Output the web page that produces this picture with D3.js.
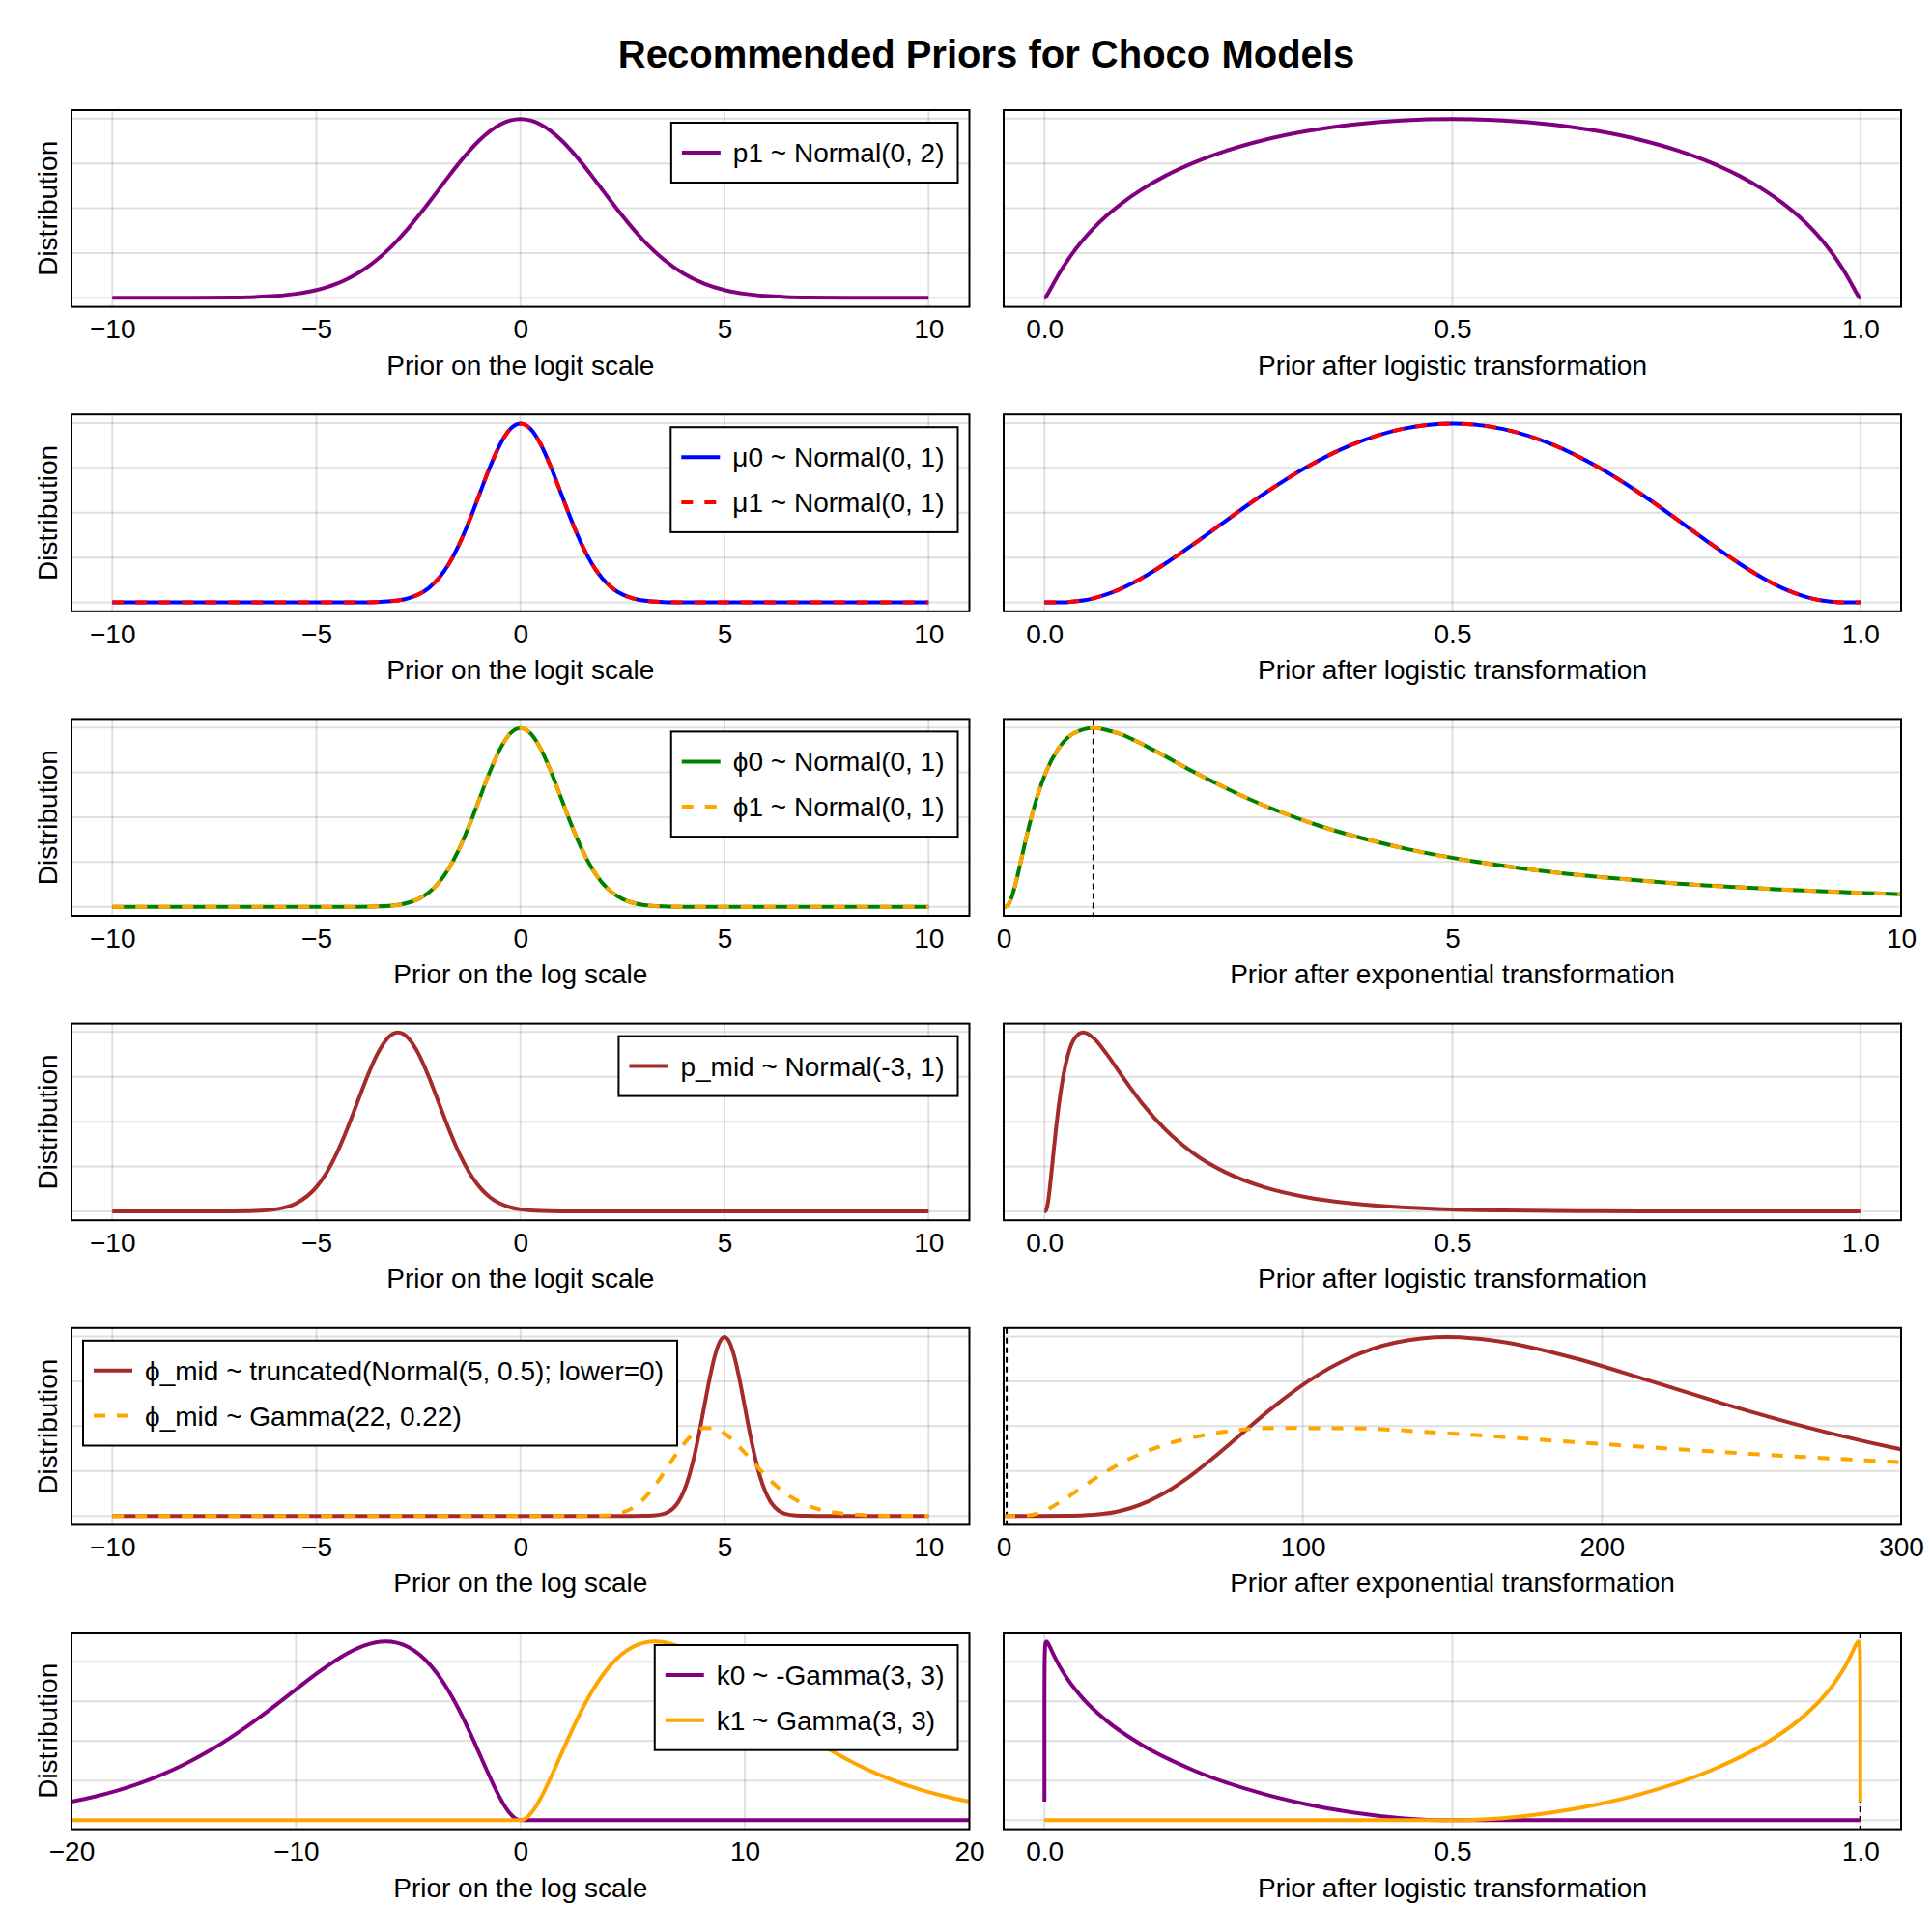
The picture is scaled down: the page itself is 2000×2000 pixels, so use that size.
<!DOCTYPE html>
<html><head><meta charset="utf-8">
<script src="https://cdn.jsdelivr.net/npm/d3@7"></script>
<style>
body{margin:0;background:#fff}
svg text{font-family:"Liberation Sans",Arial,Helvetica,sans-serif}
</style>
</head><body>
<svg id="chart" width="2000" height="2000"></svg>
<script>
// ---------------- DATA ----------------
const chartTitle = "Recommended Priors for Choco Models";

// logit-scale grid (rows 1, 2, 4) and the same points after the logistic transformation
const logitGrid = [-10, -9, -8, -7, -6.5, -6, -5.5, -5, -4.75, -4.5, -4.25, -4, -3.75, -3.5, -3.25, -3, -2.75, -2.5, -2.25, -2, -1.75, -1.5, -1.25, -1, -0.75, -0.5, -0.25, 0, 0.25, 0.5, 0.75, 1, 1.25, 1.5, 1.75, 2, 2.25, 2.5, 2.75, 3, 3.5, 4, 4.5, 5, 5.5, 6, 6.5, 7, 8, 9, 10];
const logisticGrid = [0.0000454, 0.0001234, 0.0003354, 0.000911, 0.001501, 0.002473, 0.004070, 0.006693, 0.008577, 0.010987, 0.014064, 0.017986, 0.022977, 0.029312, 0.037327, 0.047426, 0.060087, 0.075858, 0.095349, 0.119203, 0.148047, 0.182426, 0.222700, 0.268941, 0.320821, 0.377541, 0.437823, 0.5, 0.562177, 0.622459, 0.679179, 0.731059, 0.777300, 0.817574, 0.851953, 0.880797, 0.904651, 0.924142, 0.939913, 0.952574, 0.970688, 0.982014, 0.989013, 0.993307, 0.995930, 0.997527, 0.998499, 0.999089, 0.999665, 0.999877, 0.999955];

// row 1: p1 ~ Normal(0, 2)
const p1Density = [0.0000007, 0.000008, 0.000067, 0.000436, 0.001015, 0.00222, 0.00455, 0.00876, 0.01189, 0.01587, 0.02086, 0.02700, 0.03440, 0.04314, 0.05327, 0.06476, 0.07751, 0.09132, 0.10594, 0.12098, 0.13603, 0.15057, 0.16408, 0.17603, 0.18593, 0.19333, 0.19792, 0.19947, 0.19792, 0.19333, 0.18593, 0.17603, 0.16408, 0.15057, 0.13603, 0.12098, 0.10594, 0.09132, 0.07751, 0.06476, 0.04314, 0.02700, 0.01587, 0.00876, 0.00455, 0.00222, 0.001015, 0.000436, 0.000067, 0.000008, 0.0000007];

// row 2: mu0 / mu1 ~ Normal(0, 1)
const mu0Density = [0, 0, 0, 0, 0, 0, 0.0000001, 0.0000015, 0.000005, 0.000016, 0.000048, 0.000134, 0.000353, 0.000873, 0.002029, 0.004432, 0.00909, 0.01753, 0.03174, 0.05399, 0.08628, 0.12952, 0.18265, 0.24197, 0.30114, 0.35207, 0.38667, 0.39894, 0.38667, 0.35207, 0.30114, 0.24197, 0.18265, 0.12952, 0.08628, 0.05399, 0.03174, 0.01753, 0.00909, 0.004432, 0.000873, 0.000134, 0.000016, 0.0000015, 0.0000001, 0, 0, 0, 0, 0, 0];
const mu1Density = [0, 0, 0, 0, 0, 0, 0.0000001, 0.0000015, 0.000005, 0.000016, 0.000048, 0.000134, 0.000353, 0.000873, 0.002029, 0.004432, 0.00909, 0.01753, 0.03174, 0.05399, 0.08628, 0.12952, 0.18265, 0.24197, 0.30114, 0.35207, 0.38667, 0.39894, 0.38667, 0.35207, 0.30114, 0.24197, 0.18265, 0.12952, 0.08628, 0.05399, 0.03174, 0.01753, 0.00909, 0.004432, 0.000873, 0.000134, 0.000016, 0.0000015, 0.0000001, 0, 0, 0, 0, 0, 0];

// row 4: p_mid ~ Normal(-3, 1)
const pMidDensity = [0, 0, 0.0000015, 0.000134, 0.000873, 0.004432, 0.01753, 0.05399, 0.08628, 0.12952, 0.18265, 0.24197, 0.30114, 0.35207, 0.38667, 0.39894, 0.38667, 0.35207, 0.30114, 0.24197, 0.18265, 0.12952, 0.08628, 0.05399, 0.03174, 0.01753, 0.00909, 0.004432, 0.002029, 0.000873, 0.000353, 0.000134, 0.000048, 0.000016, 0.000005, 0.0000015, 0.0000001, 0, 0, 0, 0, 0, 0, 0, 0, 0, 0, 0, 0, 0, 0];

// row 3: log-scale grid and the same points after exp
const logGrid = [-10, -8, -6, -5, -4.5, -4, -3.5, -3, -2.75, -2.5, -2.25, -2, -1.75, -1.5, -1.25, -1, -0.75, -0.5, -0.25, 0, 0.25, 0.5, 0.75, 1, 1.25, 1.5, 1.75, 2, 2.25, 2.5, 2.75, 3, 3.5, 4, 4.5, 5, 6, 8, 10];
const expGrid = [0.0000454, 0.000335, 0.00248, 0.00674, 0.0111, 0.0183, 0.0302, 0.0498, 0.0639, 0.0821, 0.1054, 0.1353, 0.1738, 0.2231, 0.2865, 0.3679, 0.4724, 0.6065, 0.7788, 1, 1.2840, 1.6487, 2.1170, 2.7183, 3.4903, 4.4817, 5.7546, 7.3891, 9.4877, 12.1825, 15.6426, 20.0855, 33.1155, 54.5982, 90.0171, 148.4132, 403.4288, 2980.958, 22026.47];
const phi0Density = [0, 0, 0, 0.0000015, 0.000016, 0.000134, 0.000873, 0.004432, 0.00909, 0.01753, 0.03174, 0.05399, 0.08628, 0.12952, 0.18265, 0.24197, 0.30114, 0.35207, 0.38667, 0.39894, 0.38667, 0.35207, 0.30114, 0.24197, 0.18265, 0.12952, 0.08628, 0.05399, 0.03174, 0.01753, 0.00909, 0.004432, 0.000873, 0.000134, 0.000016, 0.0000015, 0, 0, 0];
const phi1Density = [0, 0, 0, 0.0000015, 0.000016, 0.000134, 0.000873, 0.004432, 0.00909, 0.01753, 0.03174, 0.05399, 0.08628, 0.12952, 0.18265, 0.24197, 0.30114, 0.35207, 0.38667, 0.39894, 0.38667, 0.35207, 0.30114, 0.24197, 0.18265, 0.12952, 0.08628, 0.05399, 0.03174, 0.01753, 0.00909, 0.004432, 0.000873, 0.000134, 0.000016, 0.0000015, 0, 0, 0];

// row 5: phi_mid ~ truncated(Normal(5, 0.5); lower=0)
const phiMidNormGrid = [-10, 0, 2, 2.5, 3, 3.25, 3.5, 3.625, 3.75, 3.875, 4, 4.125, 4.25, 4.375, 4.5, 4.625, 4.75, 4.875, 5, 5.125, 5.25, 5.375, 5.5, 5.625, 5.75, 5.875, 6, 6.125, 6.25, 6.375, 6.5, 6.75, 7, 7.5, 8, 10];
const phiMidNormExp = [0.0000454, 1, 7.389, 12.18, 20.09, 25.79, 33.12, 37.52, 42.52, 48.18, 54.60, 61.87, 70.11, 79.44, 90.02, 102.0, 115.58, 130.97, 148.41, 168.17, 190.57, 215.94, 244.69, 277.26, 314.19, 356.0, 403.43, 457.1, 518.0, 586.9, 665.1, 854.1, 1096.6, 1808.0, 2981.0, 22026.5];
const phiMidNormDensity = [0, 0, 0, 0.000003, 0.000268, 0.001745, 0.008864, 0.01818, 0.03506, 0.06348, 0.10798, 0.17256, 0.25903, 0.36530, 0.48394, 0.60227, 0.70413, 0.77333, 0.79788, 0.77333, 0.70413, 0.60227, 0.48394, 0.36530, 0.25903, 0.17256, 0.10798, 0.06348, 0.03506, 0.01818, 0.008864, 0.001745, 0.000268, 0.000003, 0, 0];

// row 5: phi_mid ~ Gamma(22, 0.22)
const phiMidGammaGrid = [-10, 0, 1, 1.5, 2, 2.5, 3, 3.25, 3.5, 3.75, 4, 4.25, 4.5, 4.75, 5, 5.25, 5.5, 5.75, 6, 6.5, 7, 7.5, 8, 9, 10];
const phiMidGammaExp = [0.0000454, 1, 2.718, 4.482, 7.389, 12.18, 20.09, 25.79, 33.12, 42.52, 54.60, 70.11, 90.02, 115.58, 148.41, 190.57, 244.69, 314.19, 403.43, 665.1, 1096.6, 1808.0, 2981.0, 8103.1, 22026.5];
const phiMidGammaDensity = [0, 0, 0, 0.000031, 0.001355, 0.01513, 0.0718, 0.1237, 0.1882, 0.2574, 0.3202, 0.3671, 0.3914, 0.3906, 0.3682, 0.3292, 0.2808, 0.2295, 0.1801, 0.0997, 0.0487, 0.02134, 0.00852, 0.00107, 0.0001];

// row 6: k0 ~ -Gamma(3, 3), k1 ~ Gamma(3, 3)
const kGrid = [-20, -19, -18, -17, -16, -15, -14, -13, -12, -11, -10, -9, -8, -7.5, -7, -6.5, -6, -5.5, -5, -4.5, -4, -3.5, -3, -2.5, -2, -1.5, -1, -0.75, -0.5, -0.25, 0, 0.25, 0.5, 0.75, 1, 1.5, 2, 2.5, 3, 3.5, 4, 4.5, 5, 5.5, 6, 6.5, 7, 7.5, 8, 9, 10, 11, 12, 13, 14, 15, 16, 17, 18, 19, 20];
const kLogistic = [0.000000002, 0.0000000056, 0.000000015, 0.000000041, 0.00000011, 0.00000031, 0.00000083, 0.0000023, 0.0000061, 0.0000167, 0.0000454, 0.0001234, 0.0003354, 0.000553, 0.000911, 0.001501, 0.002473, 0.004070, 0.006693, 0.010987, 0.017986, 0.029312, 0.047426, 0.075858, 0.119203, 0.182426, 0.268941, 0.320821, 0.377541, 0.437823, 0.5, 0.562177, 0.622459, 0.679179, 0.731059, 0.817574, 0.880797, 0.924142, 0.952574, 0.970688, 0.982014, 0.989013, 0.993307, 0.995930, 0.997527, 0.998499, 0.999089, 0.999447, 0.999665, 0.999877, 0.999955, 0.9999833, 0.9999939, 0.9999977, 0.9999992, 0.9999997, 0.99999989, 0.99999996, 0.999999985, 0.9999999944, 0.999999998];
const k0Density = [0.009427, 0.011874, 0.014873, 0.018514, 0.022888, 0.028075, 0.034131, 0.041074, 0.048842, 0.057275, 0.066063, 0.074681, 0.082350, 0.085505, 0.087994, 0.089633, 0.090224, 0.089562, 0.087444, 0.083674, 0.078104, 0.070643, 0.061313, 0.050301, 0.038031, 0.025272, 0.013269, 0.008113, 0.003919, 0.001065, 0, 0, 0, 0, 0, 0, 0, 0, 0, 0, 0, 0, 0, 0, 0, 0, 0, 0, 0, 0, 0, 0, 0, 0, 0, 0, 0, 0, 0, 0, 0];
const k1Density = [0, 0, 0, 0, 0, 0, 0, 0, 0, 0, 0, 0, 0, 0, 0, 0, 0, 0, 0, 0, 0, 0, 0, 0, 0, 0, 0, 0, 0, 0, 0, 0.001065, 0.003919, 0.008113, 0.013269, 0.025272, 0.038031, 0.050301, 0.061313, 0.070643, 0.078104, 0.083674, 0.087444, 0.089562, 0.090224, 0.089633, 0.087994, 0.085505, 0.082350, 0.074681, 0.066063, 0.057275, 0.048842, 0.041074, 0.034131, 0.028075, 0.022888, 0.018514, 0.014873, 0.011874, 0.009427];

// ticks
const logitTicks = [-10, -5, 0, 5, 10];
const logitTickLabels = ["\u221210", "\u22125", "0", "5", "10"];
const probTicks = [0, 0.5, 1];
const probTickLabels = ["0.0", "0.5", "1.0"];
const exp10Ticks = [0, 5, 10];
const exp10TickLabels = ["0", "5", "10"];
const exp300Ticks = [0, 100, 200, 300];
const exp300TickLabels = ["0", "100", "200", "300"];
const kTicks = [-20, -10, 0, 10, 20];
const kTickLabels = ["\u221220", "\u221210", "0", "10", "20"];
const yTicksRow1 = [0, 0.05, 0.1, 0.15, 0.2];
const yTicksRow2 = [0, 0.1, 0.2, 0.3, 0.4];
const yTicksRow5 = [0, 0.2, 0.4, 0.6, 0.8];
const yTicksRow6 = [0, 0.02, 0.04, 0.06, 0.08];

// labels
const xLabelLogit = "Prior on the logit scale";
const xLabelLog = "Prior on the log scale";
const xLabelLogistic = "Prior after logistic transformation";
const xLabelExp = "Prior after exponential transformation";
const yLabel = "Distribution";

// ---------------- CHART ----------------
const FONT = '"Liberation Sans", Arial, Helvetica, sans-serif';
const svg = d3.select('#chart');
const defs = svg.append('defs');
svg.append('rect').attr('width', 2000).attr('height', 2000).attr('fill', '#fff');

svg.append('text').attr('x', 1021).attr('y', 69.5).attr('text-anchor', 'middle')
  .attr('font-size', 40).attr('font-weight', 'bold').attr('fill', '#000').text(chartTitle);

const C = {purple: '#800080', blue: '#0000ff', red: '#ff0000', green: '#008000', orange: '#ffa500', brown: '#a52a2a'};

const rows = [
  { yTicks: yTicksRow1,
    left: {xDomain: [-11, 11], ticks: logitTicks, tickLabels: logitTickLabels, xlabel: xLabelLogit},
    right: {xDomain: [-0.05, 1.05], ticks: probTicks, tickLabels: probTickLabels, xlabel: xLabelLogistic},
    series: [{lx: logitGrid, rx: logisticGrid, y: p1Density, color: C.purple, dash: false, label: "p1 ~ Normal(0, 2)"}],
    legend: 'rt' },
  { yTicks: yTicksRow2,
    left: {xDomain: [-11, 11], ticks: logitTicks, tickLabels: logitTickLabels, xlabel: xLabelLogit},
    right: {xDomain: [-0.05, 1.05], ticks: probTicks, tickLabels: probTickLabels, xlabel: xLabelLogistic},
    series: [{lx: logitGrid, rx: logisticGrid, y: mu0Density, color: C.blue, dash: false, label: "\u03bc0 ~ Normal(0, 1)"},
             {lx: logitGrid, rx: logisticGrid, y: mu1Density, color: C.red, dash: true, label: "\u03bc1 ~ Normal(0, 1)"}],
    legend: 'rt' },
  { yTicks: yTicksRow2,
    left: {xDomain: [-11, 11], ticks: logitTicks, tickLabels: logitTickLabels, xlabel: xLabelLog},
    right: {xDomain: [0, 10], ticks: exp10Ticks, tickLabels: exp10TickLabels, xlabel: xLabelExp, vlines: [1]},
    series: [{lx: logGrid, rx: expGrid, y: phi0Density, color: C.green, dash: false, label: "\u03d50 ~ Normal(0, 1)"},
             {lx: logGrid, rx: expGrid, y: phi1Density, color: C.orange, dash: true, label: "\u03d51 ~ Normal(0, 1)"}],
    legend: 'rt' },
  { yTicks: yTicksRow2,
    left: {xDomain: [-11, 11], ticks: logitTicks, tickLabels: logitTickLabels, xlabel: xLabelLogit},
    right: {xDomain: [-0.05, 1.05], ticks: probTicks, tickLabels: probTickLabels, xlabel: xLabelLogistic},
    series: [{lx: logitGrid, rx: logisticGrid, y: pMidDensity, color: C.brown, dash: false, label: "p_mid ~ Normal(-3, 1)"}],
    legend: 'rt' },
  { yTicks: yTicksRow5,
    left: {xDomain: [-11, 11], ticks: logitTicks, tickLabels: logitTickLabels, xlabel: xLabelLog},
    right: {xDomain: [0, 300], ticks: exp300Ticks, tickLabels: exp300TickLabels, xlabel: xLabelExp, vlines: [1]},
    series: [{lx: phiMidNormGrid, rx: phiMidNormExp, y: phiMidNormDensity, color: C.brown, dash: false, label: "\u03d5_mid ~ truncated(Normal(5, 0.5); lower=0)"},
             {lx: phiMidGammaGrid, rx: phiMidGammaExp, y: phiMidGammaDensity, color: C.orange, dash: true, label: "\u03d5_mid ~ Gamma(22, 0.22)"}],
    legend: 'lt' },
  { yTicks: yTicksRow6,
    left: {xDomain: [-20, 20], ticks: kTicks, tickLabels: kTickLabels, xlabel: xLabelLog},
    right: {xDomain: [-0.05, 1.05], ticks: probTicks, tickLabels: probTickLabels, xlabel: xLabelLogistic, vlines: [1]},
    series: [{lx: kGrid, rx: kLogistic, y: k0Density, color: C.purple, dash: false, label: "k0 ~ -Gamma(3, 3)"},
             {lx: kGrid, rx: kLogistic, y: k1Density, color: C.orange, dash: true === false, label: "k1 ~ Gamma(3, 3)"}],
    legend: 'rt' }
];

const LX0 = 74, LX1 = 1003.5, RX0 = 1039, RX1 = 1968;
const ROW_TOP = 114, ROW_STEP = 315.2, AX_H = 203.6;
let clipId = 0;

function drawPanel(row, ri, side) {
  const cfg = side === 'L' ? row.left : row.right;
  const x0 = side === 'L' ? LX0 : RX0, x1 = side === 'L' ? LX1 : RX1;
  const top = ROW_TOP + ROW_STEP * ri, bottom = top + AX_H;
  const ymax = d3.max(row.series, s => d3.max(s.y));
  const xs = d3.scaleLinear().domain(cfg.xDomain).range([x0, x1]);
  const ys = d3.scaleLinear().domain([-0.05 * ymax, 1.05 * ymax]).range([bottom, top]);
  const g = svg.append('g');
  const id = 'clip' + (clipId++);
  defs.append('clipPath').attr('id', id).append('rect')
    .attr('x', x0).attr('y', top).attr('width', x1 - x0).attr('height', bottom - top);

  // grid
  g.append('g').selectAll('line').data(cfg.ticks).join('line')
    .attr('x1', d => xs(d)).attr('x2', d => xs(d)).attr('y1', top).attr('y2', bottom)
    .attr('stroke', 'rgba(0,0,0,0.12)').attr('stroke-width', 2);
  g.append('g').selectAll('line').data(row.yTicks).join('line')
    .attr('x1', x0).attr('x2', x1).attr('y1', d => ys(d)).attr('y2', d => ys(d))
    .attr('stroke', 'rgba(0,0,0,0.12)').attr('stroke-width', 2);

  const plot = g.append('g').attr('clip-path', `url(#${id})`);
  (cfg.vlines || []).forEach(v => {
    plot.append('line').attr('x1', xs(v)).attr('x2', xs(v)).attr('y1', top).attr('y2', bottom)
      .attr('stroke', '#000').attr('stroke-width', 2).attr('stroke-dasharray', '6,4');
  });
  const line = d3.line().x(d => xs(d[0])).y(d => ys(d[1])).curve(d3.curveMonotoneX);
  row.series.forEach(s => {
    const xv = side === 'L' ? s.lx : s.rx;
    plot.append('path').datum(d3.zip(xv, s.y)).attr('d', line)
      .attr('fill', 'none').attr('stroke', s.color).attr('stroke-width', 4)
      .attr('stroke-linejoin', 'round')
      .attr('stroke-dasharray', s.dash ? '12,12' : null);
  });

  // frame
  g.append('rect').attr('x', x0).attr('y', top).attr('width', x1 - x0).attr('height', bottom - top)
    .attr('fill', 'none').attr('stroke', '#000').attr('stroke-width', 2);

  // x axis labels
  const ax = d3.axisBottom(xs).tickValues(cfg.ticks).tickFormat((d, i) => cfg.tickLabels[i])
    .tickSize(0).tickPadding(13);
  const ag = g.append('g').attr('transform', `translate(0,${bottom})`).call(ax);
  ag.select('.domain').remove();
  ag.attr('font-size', 28).attr('font-family', FONT);
  ag.selectAll('text').attr('fill', '#000');

  g.append('text').attr('x', (x0 + x1) / 2).attr('y', bottom + 70).attr('text-anchor', 'middle')
    .attr('font-size', 28).attr('fill', '#000').text(cfg.xlabel);

  if (side === 'L') {
    g.append('text').attr('transform', `translate(58.5,${(top + bottom) / 2}) rotate(-90)`)
      .attr('text-anchor', 'middle').attr('font-size', 28).attr('fill', '#000').text(yLabel);
    drawLegend(g, row, x0, x1, top);
  }
}

function drawLegend(g, row, x0, x1, top) {
  const lg = g.append('g');
  const box = lg.append('rect').attr('fill', '#fff').attr('stroke', '#000').attr('stroke-width', 2);
  const texts = [];
  row.series.forEach((s, i) => {
    texts.push(lg.append('text').attr('font-size', 28).attr('fill', '#000').text(s.label));
  });
  const tw = d3.max(texts, t => t.node().getComputedTextLength());
  const w = 64 + tw + 14;
  const h = 62 + (row.series.length - 1) * 46.7;
  const bx = row.legend === 'rt' ? x1 - 12 - w : x0 + 12;
  const by = top + 13;
  box.attr('x', bx).attr('y', by).attr('width', w).attr('height', h);
  row.series.forEach((s, i) => {
    const cy = by + 31 + i * 46.7;
    lg.append('line').attr('x1', bx + 11).attr('x2', bx + 51).attr('y1', cy).attr('y2', cy)
      .attr('stroke', s.color).attr('stroke-width', 4)
      .attr('stroke-dasharray', s.dash ? '12,12' : null);
    texts[i].attr('x', bx + 64).attr('y', cy + 10);
  });
}

rows.forEach((row, ri) => { drawPanel(row, ri, 'L'); drawPanel(row, ri, 'R'); });
</script>
</body></html>
